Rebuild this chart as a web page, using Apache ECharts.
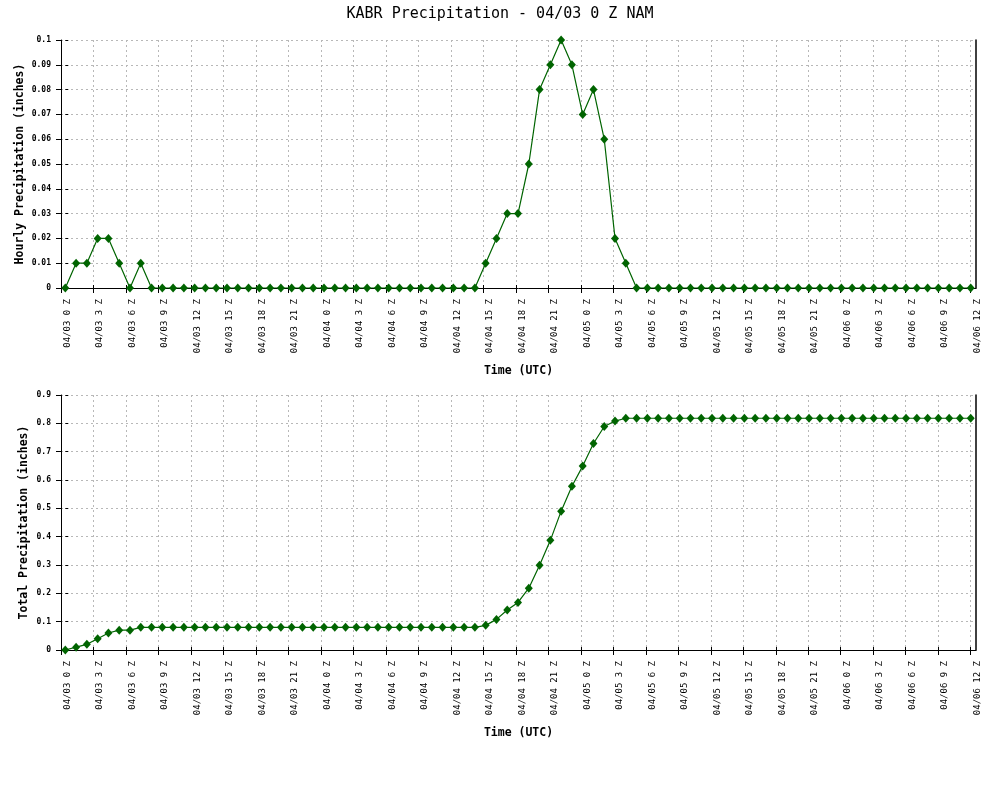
<!DOCTYPE html>
<html><head><meta charset="utf-8">
<script src="https://cdn.jsdelivr.net/npm/echarts@6/dist/echarts.min.js"></script>
<style>html,body{margin:0;padding:0;background:#fff}#c{width:1000px;height:812px}</style>
</head><body><div id="c"></div>
<script>
const chartTitle = 'KABR Precipitation - 04/03 0 Z NAM';
const xName = 'Time (UTC)';
const yNames = ['Hourly Precipitation (inches)', 'Total Precipitation (inches)'];

// labels every 3 hours, 04/03 0 Z .. 04/06 12 Z
const tickLabels = [
  '04/03 0 Z','04/03 3 Z','04/03 6 Z','04/03 9 Z','04/03 12 Z','04/03 15 Z','04/03 18 Z','04/03 21 Z',
  '04/04 0 Z','04/04 3 Z','04/04 6 Z','04/04 9 Z','04/04 12 Z','04/04 15 Z','04/04 18 Z','04/04 21 Z',
  '04/05 0 Z','04/05 3 Z','04/05 6 Z','04/05 9 Z','04/05 12 Z','04/05 15 Z','04/05 18 Z','04/05 21 Z',
  '04/06 0 Z','04/06 3 Z','04/06 6 Z','04/06 9 Z','04/06 12 Z'
];

// hourly values, one per hour from 04/03 0 Z (85 points)
const hourly = [
  0,0.01,0.01,0.02,0.02,0.01,0,0.01,0,
  0,0,0,0,0,0,0,0,0,0,
  0,0,0,0,0,0,0,0,0,0,
  0,0,0,0,0,0,0,0,0,0,
  0.01,0.02,0.03,0.03,0.05,0.08,0.09,0.1,0.09,0.07,0.08,0.06,0.02,0.01,
  0,0,0,0,0,0,0,0,
  0,0,0,0,0,0,0,0,
  0,0,0,0,0,0,0,0,
  0,0,0,0,0,0,0,0
];

const total = [
  0,0.01,0.02,0.04,0.06,0.07,0.07,0.08,0.08,
  0.08,0.08,0.08,0.08,0.08,0.08,0.08,0.08,0.08,0.08,
  0.08,0.08,0.08,0.08,0.08,0.08,0.08,0.08,0.08,0.08,
  0.08,0.08,0.08,0.08,0.08,0.08,0.08,0.08,0.08,0.08,
  0.087,0.108,0.141,0.168,0.218,0.299,0.387,0.49,0.578,0.649,0.729,0.789,0.808,0.818,
  0.818,0.818,0.818,0.818,0.818,0.818,0.818,0.818,
  0.818,0.818,0.818,0.818,0.818,0.818,0.818,0.818,
  0.818,0.818,0.818,0.818,0.818,0.818,0.818,0.818,
  0.818,0.818,0.818,0.818,0.818,0.818,0.818,0.818
];

const yMax = [0.1, 0.9];
const yInterval = [0.01, 0.1];

const FONT = 'DejaVu Sans Mono';
const GREEN = '#006400';
const GRIDC = '#b8b8b8';
const tickVals = tickLabels.map((_, i) => i * 3);
const yNameGap = [35, 31];

const grids = [
  {left: 61, right: 24, top: 40, height: 248, outerBoundsMode: 'none'},
  {left: 61, right: 24, top: 395, height: 255, outerBoundsMode: 'none'}
];

const xAxis = [], yAxis = [], series = [];
[hourly, total].forEach((vals, g) => {
  const dataX = xAxis.length;
  xAxis.push({gridIndex: g, type: 'value', position: 'bottom', min: -0.4, max: 84.49, show: false});
  xAxis.push({
    gridIndex: g, type: 'value', position: 'bottom', min: 0, max: 84.49, interval: 3,
    axisLine: {show: true, onZero: false, lineStyle: {color: '#000', width: 1}},
    axisTick: {show: true, length: 5, customValues: tickVals, lineStyle: {color: '#000', width: 1}},
    axisLabel: {
      show: true, customValues: tickVals, rotate: 90, margin: 11, verticalAlign: 'top', padding: [2, 0, 0, 0],
      fontFamily: FONT, fontSize: 9, color: '#000',
      formatter: v => (Math.abs(v % 3) < 1e-6 ? (tickLabels[Math.round(v / 3)] || '') : '')
    },
    splitLine: {show: true, lineStyle: {color: GRIDC, width: 1, type: [2, 3]}},
    name: xName, nameLocation: 'middle', nameGap: 77, nameMoveOverlap: false,
    nameTextStyle: {fontFamily: FONT, fontSize: 11.5, fontWeight: 'bold', color: '#000'}
  });
  xAxis.push({
    gridIndex: g, type: 'value', position: 'bottom', min: 0, max: 84.49, interval: 3,
    axisLine: {show: false},
    axisTick: {show: true, inside: true, length: 3, customValues: tickVals, lineStyle: {color: '#000'}},
    axisLabel: {show: false}, splitLine: {show: false}
  });
  const dataY = yAxis.length;
  yAxis.push({
    gridIndex: g, type: 'value', position: 'left', min: 0, max: yMax[g], interval: yInterval[g],
    axisLine: {show: true, onZero: false, lineStyle: {color: '#000', width: 1}},
    axisTick: {show: true, length: 5, lineStyle: {color: '#000'}},
    axisLabel: {show: true, margin: 10, fontFamily: FONT, fontSize: 8, fontWeight: 'bold', color: '#000'},
    splitLine: {show: true, lineStyle: {color: GRIDC, width: 1, type: [2, 3]}},
    name: yNames[g], nameLocation: 'middle', nameGap: yNameGap[g], nameRotate: 90, nameMoveOverlap: false,
    nameTextStyle: {fontFamily: FONT, fontSize: 11.5, fontWeight: 'bold', color: '#000'}
  });
  yAxis.push({
    gridIndex: g, type: 'value', position: 'left', min: 0, max: yMax[g], interval: yInterval[g],
    axisLine: {show: false},
    axisTick: {show: true, inside: true, length: 3, lineStyle: {color: '#000'}},
    axisLabel: {show: false}, splitLine: {show: false}
  });
  yAxis.push({
    gridIndex: g, type: 'value', position: 'right', min: 0, max: yMax[g],
    axisLine: {show: true, onZero: false, lineStyle: {color: '#000', width: 1.5}},
    axisTick: {show: false}, axisLabel: {show: false}, splitLine: {show: false}
  });
  series.push({
    type: 'line', xAxisIndex: dataX, yAxisIndex: dataY,
    data: vals.map((v, i) => [i, v]),
    symbol: 'diamond', symbolSize: [8, 9], showAllSymbol: true,
    itemStyle: {color: GREEN},
    lineStyle: {color: GREEN, width: 1.2},
    emphasis: {disabled: true}, silent: true
  });
});

const chart = echarts.init(document.getElementById('c'), null, {renderer: 'canvas'});
chart.setOption({
  animation: false,
  backgroundColor: '#fff',
  title: {text: chartTitle, left: 'center', top: 2,
    textStyle: {fontFamily: FONT, fontSize: 15, fontWeight: 'normal', color: '#000'}},
  grid: grids,
  xAxis: xAxis,
  yAxis: yAxis,
  series: series
});
</script>
</body></html>
